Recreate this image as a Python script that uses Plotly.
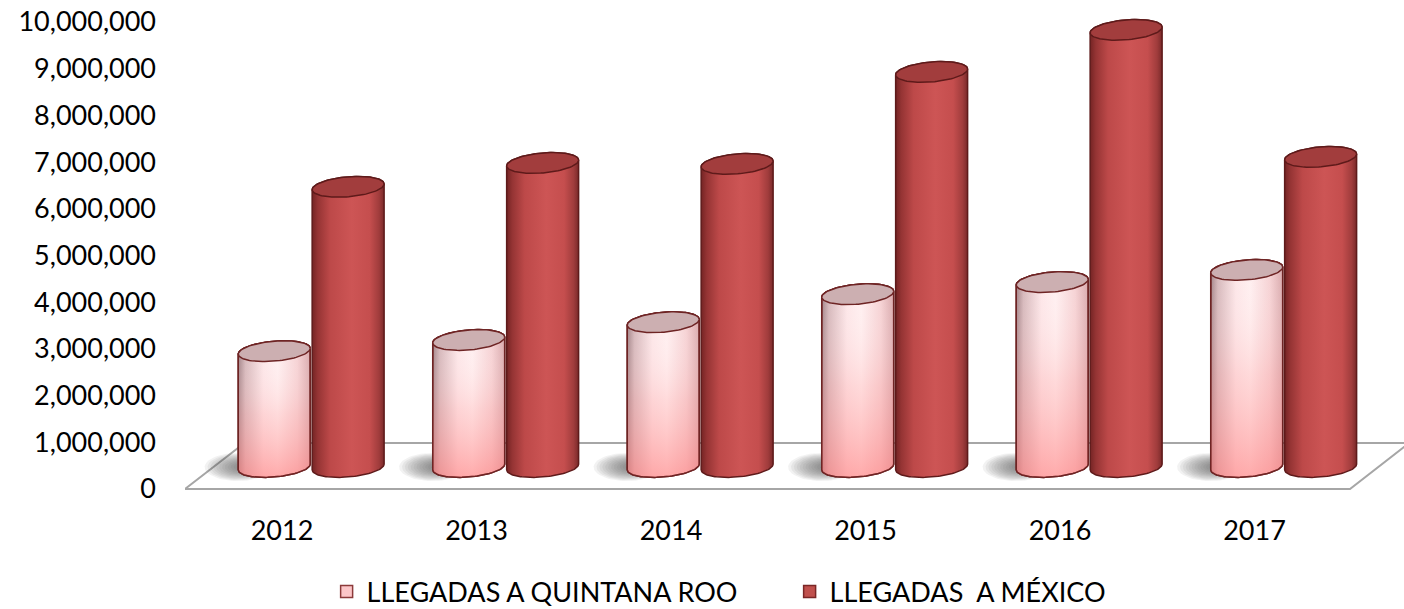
import numpy as np
import plotly.graph_objects as go

# ---------------- data ----------------
years = ["2012", "2013", "2014", "2015", "2016", "2017"]
llegadas_qroo = [2480000, 2720000, 3100000, 3700000, 3960000, 4220000]
llegadas_mexico = [6000000, 6510000, 6490000, 8460000, 9360000, 6640000]
y_ticks = [0, 1000000, 2000000, 3000000, 4000000, 5000000,
           6000000, 7000000, 8000000, 9000000, 10000000]
series_names = ["LLEGADAS A QUINTANA ROO", "LLEGADAS\u00a0\u00a0A MÉXICO"]

# ---------------- geometry / style ----------------
W, H = 1404, 609
PX_X = 194.5          # pixels per category
PX_M = 46.7           # pixels per million
ML, MR, MT, MB = 185, 0, 6, 109
x_rng = [(185 - 282) / PX_X, (W - 282) / PX_X]
y_top_px, y_bot_px, y0_px = MT, H - MB, 489
y_rng = [-(y_bot_px - y0_px) / PX_M * 1e6, (y0_px - y_top_px) / PX_M * 1e6]
base_shift = (489 - 467) / PX_M * 1e6
y2_rng = [y_rng[0] - base_shift, y_rng[1] - base_shift]

A_HALF = 0.185                    # cylinder half width (x units)
B_HALF = 10 / PX_M * 1e6          # ellipse semi-minor (y units)
SHEAR = 0.08 * PX_X / PX_M * 1e6  # tilt of ellipses (y units per x unit)
OFF_Q, OFF_M = -0.04, 0.34

FONT = dict(family="Lato, Carlito, 'Open Sans', sans-serif", size=27, color="#000000")

q_grad = [[0, "#a38488"], [0.1, "#d6b8bb"], [0.35, "#fde6e8"], [0.55, "#ffeff0"],
          [0.82, "#f6d2d4"], [1, "#d9aaad"]]
m_grad = [[0, "#742424"], [0.08, "#953434"], [0.25, "#bd4949"], [0.55, "#cd5555"],
          [0.8, "#c54e4e"], [0.93, "#a03c3c"], [1, "#7a2a2a"]]
q_top = "#ccafb1"
m_top = "#a23d3d"
q_edge = "#6e2424"
m_edge = "#5e1a1a"


def arc(cx, cy, a, b, t0, t1, n=60, shear=SHEAR):
    t = np.linspace(t0, t1, n)
    x = cx + a * np.cos(t)
    y = cy + b * np.sin(t) + shear * a * np.cos(t)
    return x, y


fig = go.Figure()

# data-carrying bars (legend; hidden behind the cylinders)
fig.add_trace(go.Bar(x=list(range(len(years))), y=llegadas_qroo, name=series_names[0],
                     width=0.3, offset=OFF_Q - 0.15, yaxis="y2",
                     marker=dict(color="#fcc6c8", line=dict(color="#8c3a3a", width=1.5)),
                     hoverinfo="skip"))
fig.add_trace(go.Bar(x=list(range(len(years))), y=llegadas_mexico, name=series_names[1],
                     width=0.3, offset=OFF_M - 0.15, yaxis="y2",
                     marker=dict(color="#c0504d", line=dict(color="#7a2626", width=1.5)),
                     hoverinfo="skip"))

# floor parallelogram (on primary y axis)
floor_back = 0.985e6
fx0, fx1 = (185 - 282) / PX_X, (1350 - 282) / PX_X
bx0, bx1 = (244.5 - 282) / PX_X, (1409 - 282) / PX_X
fig.add_trace(go.Scatter(x=[fx0, fx1, bx1, bx0, fx0], y=[0, 0, floor_back, floor_back, 0],
                         mode="lines", line=dict(color="#a6a6a6", width=2),
                         fill="toself", fillcolor="#ffffff",
                         showlegend=False, hoverinfo="skip", yaxis="y"))

n = len(years)
# soft shadows hugging the left of each group (stacked translucent ellipses)
for i in range(n):
    edge_x = i + OFF_Q - A_HALF
    for k in range(12):
        f = 1 - k * 0.07
        a = 0.17 * f
        b = 0.3e6 * f
        cx = edge_x + 0.04 - a * 0.25
        xs, ys = arc(cx, 0.0, a, b, 0, 2 * np.pi, shear=0)
        fig.add_trace(go.Scatter(x=xs, y=ys, yaxis="y2", mode="lines", line=dict(width=0),
                                 fill="toself", fillcolor="rgba(70,70,70,0.07)",
                                 showlegend=False, hoverinfo="skip"))


def cylinder(cx, v, grad, top_col, edge, vertical=None):
    bx, by = arc(cx, 0, A_HALF, B_HALF, np.pi, 2 * np.pi)
    tx, ty = arc(cx, v, A_HALF, B_HALF, 0, np.pi)
    xs = np.concatenate([bx, tx, bx[:1]])
    ys = np.concatenate([by, ty, by[:1]])
    fig.add_trace(go.Scatter(x=xs, y=ys, yaxis="y2", mode="lines",
                             line=dict(color=edge, width=1.5), fill="toself",
                             fillgradient=dict(type="horizontal", colorscale=grad,
                                               start=cx - A_HALF, stop=cx + A_HALF),
                             showlegend=False, hoverinfo="skip"))
    if vertical is not None:
        fig.add_trace(go.Scatter(x=xs, y=ys, yaxis="y2", mode="lines",
                                 line=dict(width=0), fill="toself",
                                 fillgradient=dict(type="vertical", colorscale=vertical,
                                                   start=-B_HALF, stop=v),
                                 showlegend=False, hoverinfo="skip"))
        fig.add_trace(go.Scatter(x=xs, y=ys, yaxis="y2", mode="lines",
                                 line=dict(color=edge, width=1.5),
                                 showlegend=False, hoverinfo="skip"))
    ex, ey = arc(cx, v, A_HALF, B_HALF, 0, 2 * np.pi, 90)
    fig.add_trace(go.Scatter(x=ex, y=ey, yaxis="y2", mode="lines",
                             line=dict(color=edge, width=1.5), fill="toself",
                             fillcolor=top_col, showlegend=False, hoverinfo="skip"))


q_vert = [[0, "rgba(255,125,125,0.6)"], [0.5, "rgba(255,165,165,0.28)"], [1, "rgba(255,255,255,0)"]]
for i in range(n):
    cylinder(i + OFF_Q, llegadas_qroo[i], q_grad, q_top, q_edge, vertical=q_vert)
    cylinder(i + OFF_M, llegadas_mexico[i], m_grad, m_top, m_edge)

fig.update_layout(
    width=W, height=H,
    margin=dict(l=ML, r=MR, t=MT, b=MB, autoexpand=False),
    paper_bgcolor="white", plot_bgcolor="rgba(0,0,0,0)",
    font=FONT,
    barmode="overlay",
    hovermode=False,
    xaxis=dict(range=x_rng, tickmode="array", tickvals=list(range(n)), ticktext=years,
               showgrid=False, zeroline=False, showline=False, ticks="",
               ticklabelstandoff=12, fixedrange=True, automargin=False),
    yaxis=dict(range=y_rng, tickmode="array", tickvals=y_ticks,
               ticktext=[f"{v:,}" for v in y_ticks],
               showgrid=False, zeroline=False, showline=False, ticks="",
               ticklabelstandoff=28, fixedrange=True, automargin=False),
    yaxis2=dict(range=y2_rng, overlaying="y", visible=False, fixedrange=True),
    legend=dict(orientation="h", x=0.496, xanchor="center", y=-0.186, yanchor="middle",
                font=FONT, traceorder="normal", itemclick=False, itemdoubleclick=False,
                entrywidth=418, entrywidthmode="pixels"),
    showlegend=True,
)

fig.write_html("out.html", config={"displayModeBar": False, "staticPlot": True},
               post_script="document.body.style.margin='0';document.body.style.overflow='hidden';")
